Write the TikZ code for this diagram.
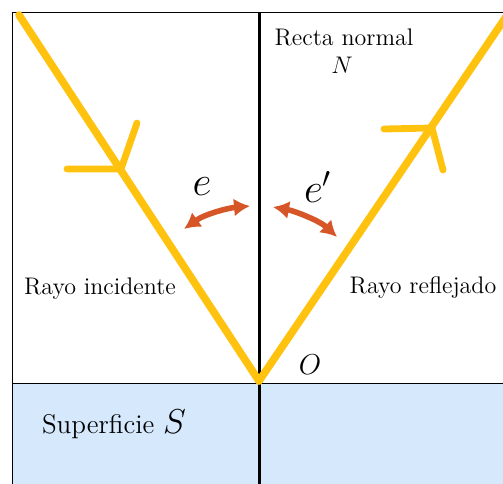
\documentclass[tikz,border=0pt]{standalone}
\usepackage{amsmath,amssymb}
\usepackage{tikz}
\usetikzlibrary{
    arrows.meta,
    positioning,
    calc
}
\definecolor{Ray}{RGB}{255, 194, 14}
\definecolor{Arc}{RGB}{214, 86, 40}
\definecolor{Mirror}{RGB}{213, 232, 252}
\tikzset{
    rray/.style={Ray, line width=3.8pt, line cap=round},
    rmark/.style={Ray, line width=3.4pt, line cap=round},
    rnormal/.style={black, line width=1.5pt},
    rarc/.style={{Latex[length=8pt, width=9pt]}-{Latex[length=8pt, width=9pt]}, line width=2.8pt, Arc},
    rlabel/.style={font=\fontsize{12}{14}\selectfont, inner sep=1pt},
}

\begin{document}
\begin{tikzpicture}[x=0.5pt, y=-0.5pt]

    \clip (0,0) rectangle (503,483);
    \fill [white] (0,0) rectangle (503,483);
    \fill [Mirror] (12,383) rectangle (520,500);
    \draw [line width=0.5pt] (12,500) -- (12,12) -- (520,12);
    \draw [line width=0.5pt] (12,383) -- (520,383);

    \coordinate (O) at (259,381);
    \coordinate (ntop) at (259,12);
    \coordinate (nbot) at (259,500);
    \coordinate (inc) at (19,15);
    \coordinate (refl) at (512,8);

    \draw [rnormal] (ntop) -- (nbot);

    \draw [rray] (inc) -- (O);
    \draw [rray] (O) -- (refl);

    % arrow marks on the rays
    \coordinate (m1) at (121,169);
    \draw [rmark] (67,169) -- (m1) -- (137,123);
    \coordinate (m2) at (432,128);
    \draw [rmark] (384,129) -- (m2) -- (443,170);

    \coordinate (a1) at (184,229);
    \coordinate (a2) at (250,206);
    \coordinate (b1) at (273,207);
    \coordinate (b2) at (337,237);
    \draw [rarc] (a1) .. controls (205,214) and (228,208) .. (a2);
    \draw [rarc] (b1) .. controls (295,211) and (320,221) .. (b2);

    \node [rlabel] (tnormal) at (344,37) {Recta normal};
    \node [font=\fontsize{13}{15}\selectfont] (tN) at (342,65) {$N$};
    \node [font=\fontsize{21}{24}\selectfont] (te) at (202,187) {$e$};
    \node [font=\fontsize{21}{24}\selectfont] (tep) at (318,187) {$e'$};
    \node [rlabel] (tinc) at (100,289) {Rayo incidente};
    \node [rlabel] (trefl) at (423,287) {Rayo reflejado};
    \node [font=\fontsize{15}{18}\selectfont] (tO) at (310,365) {$O$};
    \node [font=\fontsize{13.5}{16}\selectfont] (tsup) at (114,424) {Superficie {\fontsize{16}{18}\selectfont$S$}};

\end{tikzpicture}
\end{document}
